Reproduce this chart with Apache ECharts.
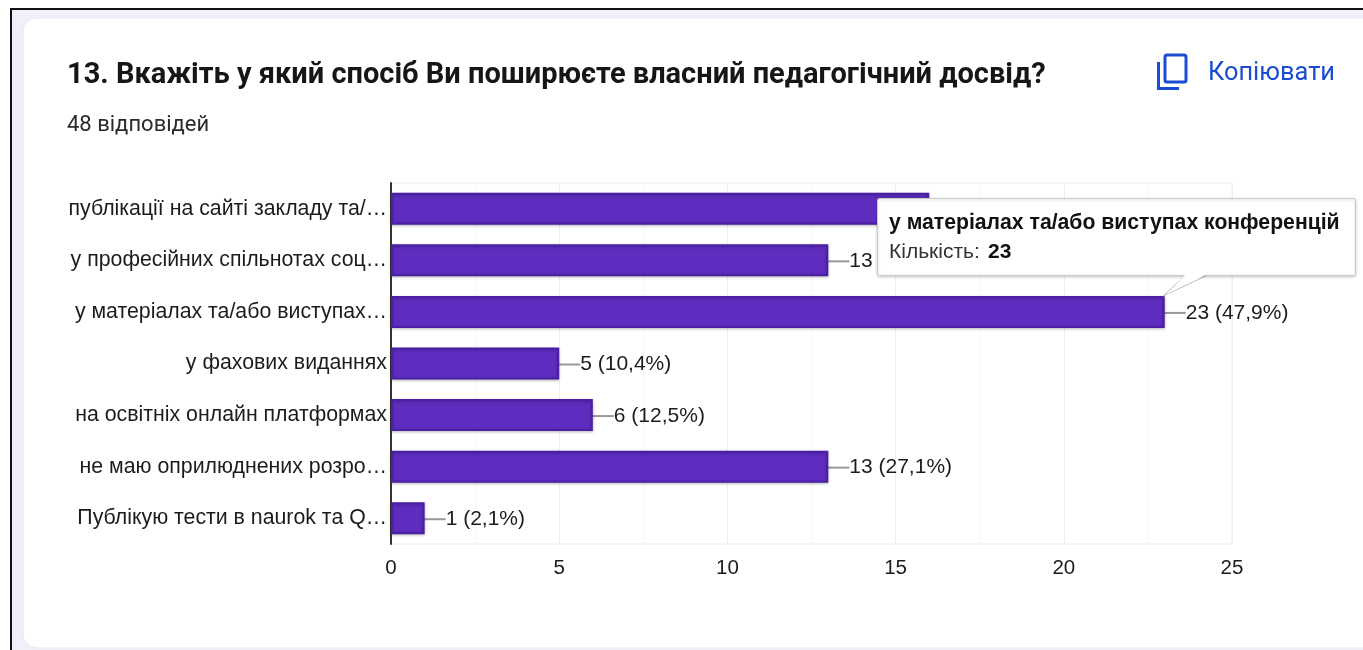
<!DOCTYPE html>
<html><head><meta charset="utf-8">
<style>html,body{margin:0;padding:0;background:#fff}#c{width:1363px;height:650px}</style>
<script src="https://cdn.jsdelivr.net/npm/echarts@6/dist/echarts.min.js"></script>
</head><body><div id="c"></div>
<script>
const categories = ['публікації на сайті закладу та/…','у професійних спільнотах соц…','у матеріалах та/або виступах…','у фахових виданнях','на освітніх онлайн платформах','не маю оприлюднених розро…','Публікую тести в naurok та Q…'];
const counts = [16,13,23,5,6,13,1];
const percents = ['33,3','27,1','47,9','10,4','12,5','27,1','2,1'];
const titleText = '13. Вкажіть у який спосіб Ви поширюєте власний педагогічний досвід?';
const subtitleText = '48 відповідей';
const copyText = 'Копіювати';
const tipTitle = 'у матеріалах та/або виступах конференцій';
const tipLabel = 'Кількість:';
const tipValue = '23';
const tickMax = 25, tickStep = 5;

const chart = echarts.init(document.getElementById('c'), null, {renderer:'canvas'});
const blue = '#1a4bd1';
const sans = '"Liberation Sans", Arial, sans-serif';
chart.setOption({
  animation:false,
  backgroundColor:'#fff',
  grid:{left:391,top:183,width:841,height:361,containLabel:false,show:true,borderColor:'#ececec',borderWidth:1},
  xAxis:{type:'value',min:0,max:tickMax,interval:tickStep,
    axisLine:{show:false},axisTick:{show:false},
    axisLabel:{color:'#1c1c1c',fontFamily:sans,fontSize:20.5,margin:14},
    splitLine:{show:true,lineStyle:{color:'#efefef',width:1}},
    minorTick:{show:false,splitNumber:2},
    minorSplitLine:{show:true,lineStyle:{color:'#f5f5f5',width:1}}},
  yAxis:{type:'category',inverse:true,data:categories,
    axisLine:{show:true,onZero:false,lineStyle:{color:'#333',width:2}},
    axisTick:{show:false},
    axisLabel:{color:'#1c1c1c',fontFamily:sans,fontSize:21.3,margin:4,overflow:'none',padding:[3,0,0,0]},
    splitLine:{show:false}},
  series:[{type:'bar',data:counts,barWidth:32,z:3,
    itemStyle:{color:'#5e2dc0',borderColor:'#4b1fa3',borderWidth:2,shadowColor:'rgba(0,0,0,0.25)',shadowBlur:3,shadowOffsetY:1},
    label:{show:true,position:'right',distance:2,color:'#1c1c1c',fontFamily:sans,fontSize:21,
      formatter:p=>`${counts[p.dataIndex]} (${percents[p.dataIndex]}%)`},
    labelLayout:{dx:19,dy:1},
    labelLine:{show:true,length2:0,lineStyle:{color:'#999',width:2}}
  }],
  graphic:[
    {type:'rect',z:-10,silent:true,shape:{x:11,y:9,width:1360,height:650},style:{fill:'#f2effa',stroke:'#111',lineWidth:2}},
    {type:'rect',z:-9,silent:true,shape:{x:23,y:18,width:1345,height:630,r:[14,0,0,14]},style:{fill:'#fff',stroke:'#e8e8ee',lineWidth:1}},
    {type:'text',z:10,silent:true,style:{x:67,y:76,text:titleText,fill:'#161616',font:'bold 29px Roboto, sans-serif',verticalAlign:'middle'}},
    {type:'text',z:10,silent:true,style:{x:67,y:125,text:subtitleText,fill:'#2b2b2b',font:'22px Roboto, sans-serif',verticalAlign:'middle'}},
    {type:'rect',z:10,silent:true,shape:{x:1165,y:55,width:21,height:27,r:2},style:{fill:'none',stroke:blue,lineWidth:3}},
    {type:'polyline',z:10,silent:true,shape:{points:[[1158.5,62],[1158.5,88.5],[1179,88.5]]},style:{fill:'none',stroke:blue,lineWidth:3}},
    {type:'text',z:10,silent:true,style:{x:1208,y:74,text:copyText,fill:blue,font:'25.4px Roboto, sans-serif',verticalAlign:'middle'}},
    {type:'polygon',z:20,silent:true,shape:{points:[[1163,296],[1186,275],[1208,275]]},style:{fill:'#fff',stroke:'#bbb',lineWidth:1}},
    {type:'rect',z:20,silent:true,shape:{x:877.5,y:198.5,width:478,height:77,r:2},style:{fill:'#fff',stroke:'#ccc',lineWidth:1,shadowColor:'rgba(0,0,0,0.2)',shadowBlur:3,shadowOffsetY:1}},
    {type:'polygon',z:21,silent:true,shape:{points:[[1167,294],[1186,274],[1206,274]]},style:{fill:'#fff'}},
    {type:'text',z:22,silent:true,style:{x:889,y:223,text:tipTitle,fill:'#111',font:'bold 21.2px "Liberation Sans", Arial, sans-serif',verticalAlign:'middle'}},
    {type:'text',z:22,silent:true,style:{x:889,y:252,text:tipLabel,fill:'#333',font:'21px "Liberation Sans", Arial, sans-serif',verticalAlign:'middle'}},
    {type:'text',z:22,silent:true,style:{x:988,y:252,text:tipValue,fill:'#111',font:'bold 21px "Liberation Sans", Arial, sans-serif',verticalAlign:'middle'}}
  ]
});
</script></body></html>
